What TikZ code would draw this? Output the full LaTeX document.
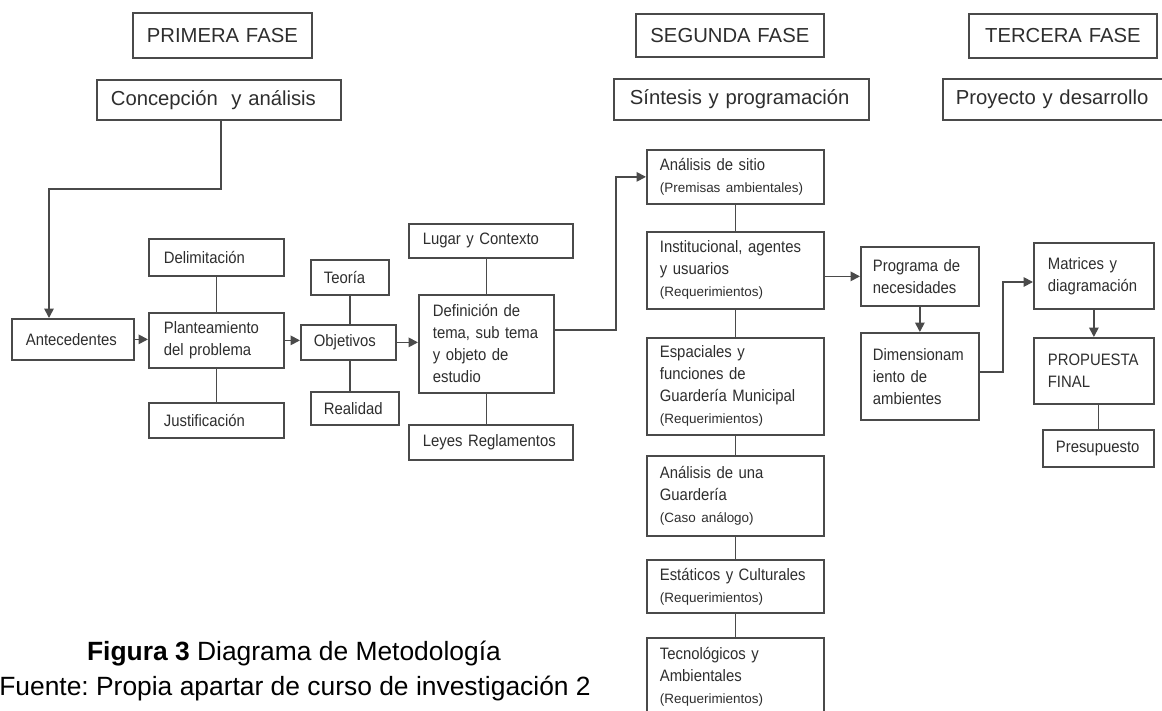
\documentclass[tikz,border=0pt]{standalone}
\usepackage{fontspec}
\setmainfont{Liberation Sans}
\newfontfamily\boxfont{Liberation Sans}[FakeStretch=0.9,WordSpace=0.8]
\usetikzlibrary{arrows.meta}
\definecolor{ln}{HTML}{4A4A4A}
\definecolor{tx}{HTML}{2E2E2E}
\newcommand\subtxt{\rmfamily\fontsize{10.1pt}{16.5pt}\selectfont}
\newcommand\boxnode[8]{%
  \pgfmathsetmacro\bw{(#4-#2)*0.75}%
  \pgfmathsetmacro\bh{(#5-#3)*0.75}%
  \pgfmathsetmacro\tw{(#4-#2-2*#6)*0.75}%
  \pgfmathsetmacro\px{#6*0.75}%
  \node[#7, minimum width=\bw pt, minimum height=\bh pt, text width=\tw pt,
        inner xsep=\px pt, anchor=north west] (#1) at (#2,#3) {#8};}
\begin{document}
\frenchspacing
\begin{tikzpicture}[x=0.75pt,y=-0.75pt,
  bx/.style={draw=ln, line width=1.3pt, rectangle, inner ysep=0pt, align=left,
             text=tx, font=\boxfont\fontsize{12.4pt}{16.5pt}\selectfont},
  hdr/.style={bx, align=center, font=\rmfamily\fontsize{15.2pt}{18pt}\selectfont},
  hdl/.style={bx, align=left, font=\rmfamily\fontsize{15.2pt}{18pt}\selectfont},
  con/.style={draw=ln, line width=1.3pt},
  arr/.style={con, -{Triangle[length=7pt,width=7pt]}},
  captxt/.style={text=black, inner sep=0pt, anchor=base, font=\rmfamily\fontsize{19.8pt}{26pt}\selectfont}]
\useasboundingbox (0,0) rectangle (1162,710);
\clip (0,0) rectangle (1162,710);
\fill[white] (0,0) rectangle (1162,710);

% headers
\boxnode{f1}{132}{12}{311}{57}{5}{hdr}{PRIMERA FASE}
\boxnode{f2}{635}{13}{823}{56}{5}{hdr}{SEGUNDA FASE}
\boxnode{f3}{968}{13}{1156}{57}{5}{hdr}{TERCERA FASE}
\boxnode{c1}{96}{79}{340}{119}{14}{hdl}{Concepción~ y análisis}
\boxnode{c2}{613}{78}{868}{119}{16}{hdl}{Síntesis y programación}
\boxnode{c3}{942}{78}{1168}{119}{13}{hdl}{Proyecto y desarrollo}

% first phase
\boxnode{ante}{11}{318}{133}{359}{14}{bx}{Antecedentes}
\boxnode{delim}{148}{238}{283}{275}{15}{bx}{Delimitación}
\boxnode{plan}{148}{312}{283}{367}{15}{bx}{Planteamiento\\del problema}
\boxnode{just}{148}{402}{283}{437}{15}{bx}{Justificación}
\boxnode{teo}{310}{259}{388}{294}{13}{bx}{Teoría}
\boxnode{obj}{300}{324}{395}{359}{13}{bx}{Objetivos}
\boxnode{real}{310}{391}{398}{424}{13}{bx}{Realidad}
\boxnode{lugar}{408}{223}{572}{257}{14}{bx}{Lugar y Contexto}
\boxnode{def}{418}{294}{553}{392}{14}{bx}{Definición de\\tema, sub tema\\y objeto de\\estudio}
\boxnode{leyes}{408}{424}{572}{459}{14}{bx}{Leyes Reglamentos}

% second phase
\boxnode{sitio}{646}{149}{823}{203}{13}{bx}{Análisis de sitio\\{\subtxt (Premisas ambientales)}}
\boxnode{inst}{646}{231}{823}{308}{13}{bx}{Institucional, agentes\\y usuarios\\{\subtxt (Requerimientos)}}
\boxnode{esp}{646}{337}{823}{434}{13}{bx}{Espaciales y\\funciones de\\Guardería Municipal\\{\subtxt (Requerimientos)}}
\boxnode{guard}{646}{455}{823}{535}{13}{bx}{Análisis de una\\Guardería\\{\subtxt (Caso análogo)}}
\boxnode{estat}{646}{559}{823}{612}{13}{bx}{Estáticos y Culturales\\{\subtxt (Requerimientos)}}
\boxnode{tecno}{646}{637}{823}{714}{13}{bx}{Tecnológicos y\\Ambientales\\{\subtxt (Requerimientos)}}
\boxnode{prog}{860}{246}{978}{305}{12}{bx}{Programa de\\necesidades}
\boxnode{dim}{860}{332}{978}{419}{12}{bx}{Dimensionam\\iento de\\ambientes}

% third phase
\boxnode{matr}{1033}{242}{1153}{308}{14}{bx}{Matrices y\\diagramación}
\boxnode{prop}{1033}{337}{1153}{403}{14}{bx}{PROPUESTA\\FINAL}
\boxnode{pres}{1042}{429}{1153}{466}{13}{bx}{Presupuesto}

% junction coordinates
\coordinate (c1x) at (221,119);
\coordinate (k1) at (49,189);
\coordinate (j1) at (616,330);
\coordinate (j2) at (1003,372);
\coordinate (j3) at (1003,282);

% connectors
\draw[arr] (c1.south -| c1x) |- (k1) -- (k1 |- ante.north);
\draw[arr] (ante.east) -- (ante.east -| plan.west);
\draw[arr] (plan.east) -- (plan.east -| obj.west);
\draw[arr] (obj.east) -- (obj.east -| def.west);
\draw[con] (delim.south) -- (plan.north);
\draw[con] (plan.south) -- (just.north);
\draw[con] (teo.south) -- (teo.south |- obj.north);
\draw[con] (teo.south |- obj.south) -- (teo.south |- real.north);
\draw[con] (def.north) -- (def.north |- lugar.south);
\draw[con] (def.south) -- (def.south |- leyes.north);
\draw[arr] (def.east |- j1) -- (j1) |- (sitio.west);
\draw[con] (sitio.south) -- (inst.north);
\draw[con] (inst.south) -- (esp.north);
\draw[con] (esp.south) -- (guard.north);
\draw[con] (guard.south) -- (estat.north);
\draw[con] (estat.south) -- (tecno.north);
\draw[arr] (inst.east |- prog.west) -- (prog.west);
\draw[arr] (prog.south) -- (dim.north);
\draw[arr] (dim.east |- j2) -- (j2) -- (j3) -- (j3 -| matr.west);
\draw[arr] (prop.north |- matr.south) -- (prop.north);
\draw[con] (pres.north |- prop.south) -- (pres.north);

% caption
\node[captxt] (cap1) at (294,660) {\textbf{Figura 3} Diagrama de Metodología};
\node[captxt] (cap2) at (295,695) {Fuente: Propia apartar de curso de investigación 2};
\end{tikzpicture}
\end{document}
